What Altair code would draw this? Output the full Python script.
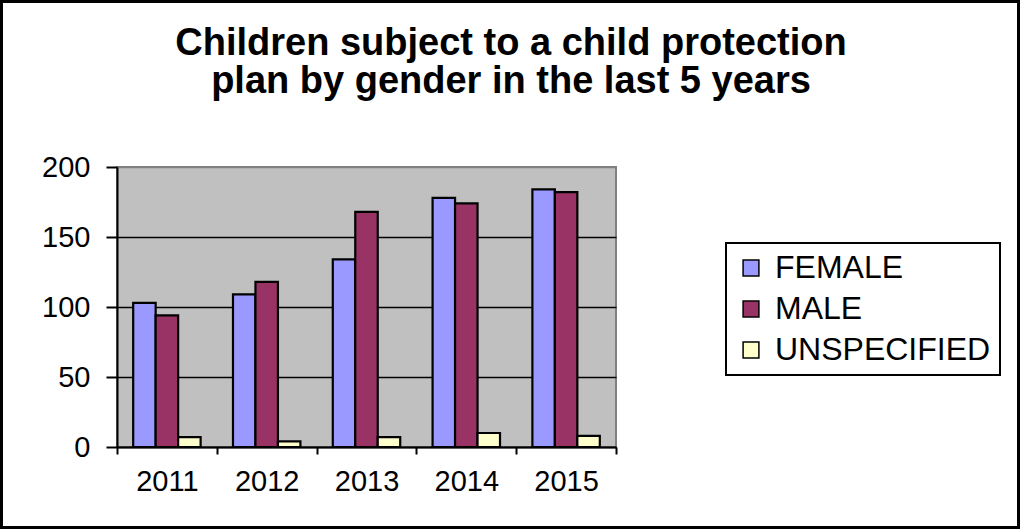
import altair as alt
import pandas as pd

# Children subject to a child protection plan, by gender and year
years = ["2011", "2012", "2013", "2014", "2015"]
genders = ["FEMALE", "MALE", "UNSPECIFIED"]
female = [103, 109, 134, 178, 184]
male = [94, 118, 168, 174, 182]
unspecified = [7, 4, 7, 10, 8]
colors = ["#9999FF", "#993366", "#FFFFCC"]
y_ticks = [0, 50, 100, 150, 200]

rows = []
for i, yr in enumerate(years):
    for g, vals in zip(genders, [female, male, unspecified]):
        rows.append({"year": yr, "gender": g, "count": vals[i]})
df = pd.DataFrame(rows)

W, H = 499, 280
LEFT, TOP = 117, 167
FONT = "Liberation Sans"

bars = alt.Chart(df).mark_bar(stroke="black", strokeWidth=2.2).encode(
    x=alt.X(
        "year:N",
        sort=years,
        title=None,
        scale=alt.Scale(paddingInner=0, paddingOuter=0),
        axis=alt.Axis(
            labelAngle=0,
            tickBand="extent",
            tickSize=7,
            tickWidth=2,
            tickColor="black",
            domainColor="black",
            domainWidth=2,
            labelPadding=13,
            labelFont=FONT,
            labelFontSize=29,
            labelColor="black",
            grid=False,
        ),
    ),
    xOffset=alt.XOffset(
        "gender:N",
        sort=genders,
        scale=alt.Scale(paddingInner=0, paddingOuter=0.72),
    ),
    y=alt.Y(
        "count:Q",
        title=None,
        scale=alt.Scale(domain=[0, 200]),
        axis=alt.Axis(
            values=y_ticks,
            grid=True,
            gridColor={"condition": {"test": "datum.value === 200", "value": "#808080"}, "value": "black"},
            gridWidth=1.6,
            tickSize=11,
            tickWidth=2,
            tickColor="black",
            domainColor="black",
            domainWidth=2,
            labelPadding=16,
            labelFont=FONT,
            labelFontSize=29,
            labelColor="black",
        ),
    ),
    color=alt.Color(
        "gender:N",
        sort=genders,
        scale=alt.Scale(domain=genders, range=colors),
        legend=alt.Legend(
            title=None,
            orient="none",
            legendX=609,
            legendY=76,
            symbolType="square",
            symbolSize=250,
            symbolStrokeColor="black",
            symbolStrokeWidth=1.5,
            labelFont=FONT,
            labelFontSize=32,
            labelColor="black",
            labelLimit=0,
            labelOffset=8,
            rowPadding=9,
            padding=9,
            strokeColor="black",
            fillColor="white",
        ),
    ),
)

# outer frame around the whole figure
frame = alt.Chart(df).mark_rect(fillOpacity=0, stroke="black", strokeWidth=2.5).encode(
    x=alt.value(1.5 - LEFT),
    x2=alt.value(1018.5 - LEFT),
    y=alt.value(1.5 - TOP),
    y2=alt.value(527.5 - TOP),
)

chart = alt.layer(bars, frame).properties(
    width=W,
    height=H,
    title=alt.TitleParams(
        text=["Children subject to a child protection", "plan by gender in the last 5 years"],
        font=FONT,
        fontSize=38,
        fontWeight="bold",
        color="black",
        anchor="middle",
        frame="group",
        baseline="top",
        offset=0,
        dx=144.5,
        dy=101,
        lineHeight=38,
    ),
    autosize=alt.AutoSizeParams(type="none"),
    padding={"left": LEFT, "top": TOP, "right": 1021 - LEFT - W, "bottom": 530 - TOP - H},
    background="white",
).configure_view(
    fill="#C0C0C0",
    stroke="#808080",
    strokeWidth=2,
).configure_legend(
    strokeWidth=2,
)

chart.save("out.html", embed_options={"renderer": "svg", "actions": False})
